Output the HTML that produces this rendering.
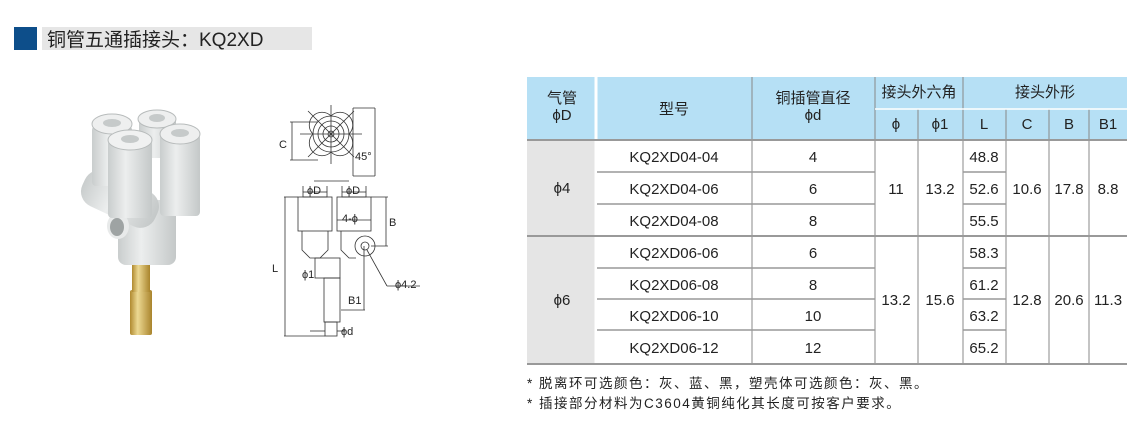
<!DOCTYPE html>
<html><head><meta charset="utf-8"><style>
html,body{margin:0;padding:0;background:#fff;}
svg{display:block;font-family:"Liberation Sans","Noto Sans CJK SC",sans-serif;}
</style></head><body>
<svg width="1140" height="428" viewBox="0 0 1140 428" xmlns="http://www.w3.org/2000/svg">
<defs>
<linearGradient id="g" x1="0" x2="1" y1="0" y2="0"><stop offset="0" stop-color="#c9cdcd"/><stop offset="0.4" stop-color="#eceeee"/><stop offset="1" stop-color="#c4c8c8"/></linearGradient>
<linearGradient id="b" x1="0" x2="1" y1="0" y2="0"><stop offset="0" stop-color="#b08a30"/><stop offset="0.35" stop-color="#ecd892"/><stop offset="1" stop-color="#a9842c"/></linearGradient>
</defs>
<!-- title -->
<rect x="14" y="27" width="23" height="23" fill="#0d4e8a"/>
<rect x="42" y="27" width="270" height="23" fill="#e6e6e6"/>
<text x="47" y="46" font-size="19" fill="#222">铜管五通插接头：KQ2XD</text>

<!-- photo -->
<g>
<rect x="130" y="290" width="22" height="45" rx="2" fill="url(#b)"/>
<rect x="132" y="262" width="18" height="30" fill="url(#b)"/>
<rect x="118" y="200" width="58" height="65" rx="8" fill="url(#g)"/>
<rect x="80" y="180" width="80" height="38" rx="16" fill="url(#g)" transform="rotate(25 120 199)"/>
<ellipse cx="118" cy="226" rx="11" ry="13" fill="#e8eaea"/>
<ellipse cx="117" cy="227" rx="7" ry="9" fill="#9ea3a3"/>
<rect x="92" y="126" width="40" height="60" rx="4" fill="url(#g)"/>
<ellipse cx="112" cy="124" rx="20" ry="10" fill="#eeefef" stroke="#b8bcbc"/>
<ellipse cx="112" cy="123" rx="9" ry="4" fill="#c6caca"/>
<rect x="139" y="118" width="37" height="40" rx="4" fill="url(#g)"/>
<ellipse cx="157" cy="119" rx="19" ry="9" fill="#eeefef" stroke="#b8bcbc"/>
<ellipse cx="157" cy="118" rx="8" ry="4" fill="#c6caca"/>
<rect x="160" y="134" width="40" height="82" rx="4" fill="url(#g)"/>
<ellipse cx="180" cy="134" rx="20" ry="10" fill="#eeefef" stroke="#b8bcbc"/>
<ellipse cx="180" cy="133" rx="9" ry="4" fill="#c6caca"/>
<rect x="108" y="140" width="44" height="78" rx="4" fill="url(#g)"/>
<ellipse cx="130" cy="140" rx="22" ry="10" fill="#f0f1f1" stroke="#b8bcbc"/>
<ellipse cx="130" cy="139" rx="9" ry="4" fill="#c6caca"/>
</g>

<!-- technical drawing -->
<g fill="none" stroke="#333" stroke-width="0.8">
<circle cx="331" cy="134" r="18"/><circle cx="331" cy="134" r="13"/><circle cx="331" cy="134" r="8"/><circle cx="331" cy="134" r="3"/>
<path d="M313 134 A12 12 0 1 1 331 116"/><path d="M331 116 A12 12 0 1 1 349 134"/>
<path d="M313 134 A12 12 0 1 0 331 152"/><path d="M331 152 A12 12 0 1 0 349 134"/>
<line x1="353" y1="108" x2="375" y2="108"/><line x1="375" y1="108" x2="375" y2="176"/><line x1="353" y1="176" x2="375" y2="176"/><line x1="353" y1="108" x2="353" y2="176"/>
<line x1="300" y1="134" x2="362" y2="134"/><line x1="331" y1="105" x2="331" y2="164"/>
<line x1="308" y1="111" x2="354" y2="157"/><line x1="354" y1="111" x2="308" y2="157"/>
<line x1="290" y1="122" x2="318" y2="122"/><line x1="290" y1="160" x2="318" y2="160"/><line x1="292" y1="122" x2="292" y2="160"/>
<line x1="314" y1="181" x2="349" y2="181"/>
<rect x="298" y="197" width="34" height="34"/><rect x="337" y="197" width="34" height="34"/>
<rect x="303" y="192" width="24" height="5"/><rect x="342" y="192" width="24" height="5"/>
<path d="M302 231 V250 L310 258 H320 L328 250 V231"/><path d="M341 231 V250 L349 258 H356"/>
<rect x="315" y="258" width="25" height="20"/>
<rect x="324" y="278" width="16" height="44"/><rect x="325" y="322" width="12" height="14"/>
<circle cx="365" cy="246" r="10"/><circle cx="365" cy="246" r="4"/>
<line x1="284" y1="197" x2="298" y2="197"/><line x1="284" y1="336" x2="325" y2="336"/><line x1="285" y1="197" x2="285" y2="336"/>
<line x1="371" y1="197" x2="388" y2="197"/><line x1="371" y1="246" x2="388" y2="246"/><line x1="386" y1="197" x2="386" y2="246"/>
<line x1="337" y1="220" x2="371" y2="220"/>
<line x1="303" y1="186" x2="303" y2="192"/><line x1="327" y1="186" x2="327" y2="192"/><line x1="342" y1="186" x2="342" y2="192"/><line x1="366" y1="186" x2="366" y2="192"/>
<line x1="367" y1="250" x2="387" y2="286"/><line x1="387" y1="286" x2="420" y2="286"/>
<line x1="341" y1="310" x2="365" y2="310"/><line x1="364" y1="246" x2="364" y2="310"/>
<line x1="310" y1="331" x2="325" y2="331"/><line x1="337" y1="331" x2="345" y2="331"/>
</g>
<g font-size="11" fill="#222">
<text x="279" y="148">C</text><text x="355" y="160">45°</text>
<text x="307" y="194">ϕD</text><text x="346" y="194">ϕD</text>
<text x="342" y="222">4-ϕ</text><text x="389" y="226">B</text>
<text x="272" y="272">L</text><text x="302" y="278">ϕ1</text>
<text x="395" y="288">ϕ4.2</text><text x="348" y="304">B1</text><text x="341" y="335">ϕd</text>
</g>

<!-- table -->
<rect x="527" y="77" width="600" height="63" fill="#b6e0f5"/>
<rect x="527" y="140" width="68" height="224" fill="#e5e5e5"/>
<line x1="596" y1="77" x2="596" y2="364" stroke="#fff" stroke-width="3"/>
<g stroke="#888" stroke-width="1">
<line x1="752" y1="77" x2="752" y2="364"/>
<line x1="875" y1="77" x2="875" y2="364"/>
<line x1="918" y1="109" x2="918" y2="364"/>
<line x1="963" y1="77" x2="963" y2="364"/>
<line x1="1006" y1="109" x2="1006" y2="364"/>
<line x1="1049" y1="109" x2="1049" y2="364"/>
<line x1="1089" y1="109" x2="1089" y2="364"/>
<line x1="875" y1="109" x2="1127" y2="109" stroke="#fff" stroke-width="1.5"/>
</g>
<g stroke="#999" stroke-width="1.5">
<line x1="527" y1="140" x2="1127" y2="140" stroke-width="2"/>
<line x1="597" y1="172" x2="875" y2="172"/><line x1="963" y1="172" x2="1006" y2="172"/>
<line x1="597" y1="204" x2="875" y2="204"/><line x1="963" y1="204" x2="1006" y2="204"/>
<line x1="527" y1="236" x2="1127" y2="236" stroke-width="2"/>
<line x1="597" y1="268" x2="875" y2="268"/><line x1="963" y1="268" x2="1006" y2="268"/>
<line x1="597" y1="299" x2="875" y2="299"/><line x1="963" y1="299" x2="1006" y2="299"/>
<line x1="597" y1="330" x2="875" y2="330"/><line x1="963" y1="330" x2="1006" y2="330"/>
<line x1="527" y1="364" x2="1127" y2="364" stroke-width="2"/>
</g>
<g font-size="15" fill="#222" text-anchor="middle">
<text x="562" y="103">气管</text><text x="562" y="120">ϕD</text>
<text x="674" y="114">型号</text>
<text x="813" y="103">铜插管直径</text><text x="813" y="120">ϕd</text>
<text x="919" y="97">接头外六角</text><text x="1045" y="97">接头外形</text>
<text x="896" y="129">ϕ</text><text x="940" y="129">ϕ1</text>
<text x="984" y="129">L</text><text x="1027" y="129">C</text><text x="1069" y="129">B</text><text x="1108" y="129">B1</text>
<text x="562" y="193">ϕ4</text><text x="562" y="305">ϕ6</text>
<text x="674" y="162">KQ2XD04-04</text><text x="813" y="162">4</text><text x="984" y="162">48.8</text>
<text x="674" y="194">KQ2XD04-06</text><text x="813" y="194">6</text><text x="984" y="194">52.6</text>
<text x="674" y="226">KQ2XD04-08</text><text x="813" y="226">8</text><text x="984" y="226">55.5</text>
<text x="896" y="194">11</text><text x="940" y="194">13.2</text>
<text x="1027" y="194">10.6</text><text x="1069" y="194">17.8</text><text x="1108" y="194">8.8</text>
<text x="674" y="258">KQ2XD06-06</text><text x="813" y="258">6</text><text x="984" y="258">58.3</text>
<text x="674" y="290">KQ2XD06-08</text><text x="813" y="290">8</text><text x="984" y="290">61.2</text>
<text x="674" y="321">KQ2XD06-10</text><text x="813" y="321">10</text><text x="984" y="321">63.2</text>
<text x="674" y="353">KQ2XD06-12</text><text x="813" y="353">12</text><text x="984" y="353">65.2</text>
<text x="896" y="305">13.2</text><text x="940" y="305">15.6</text>
<text x="1027" y="305">12.8</text><text x="1069" y="305">20.6</text><text x="1108" y="305">11.3</text>
</g>
<g font-size="13.5" fill="#222" letter-spacing="1.5">
<text x="527" y="388">* 脱离环可选颜色：灰、蓝、黑，塑壳体可选颜色：灰、黑。</text>
<text x="527" y="408">* 插接部分材料为C3604黄铜纯化其长度可按客户要求。</text>
</g>
</svg>
</body></html>
